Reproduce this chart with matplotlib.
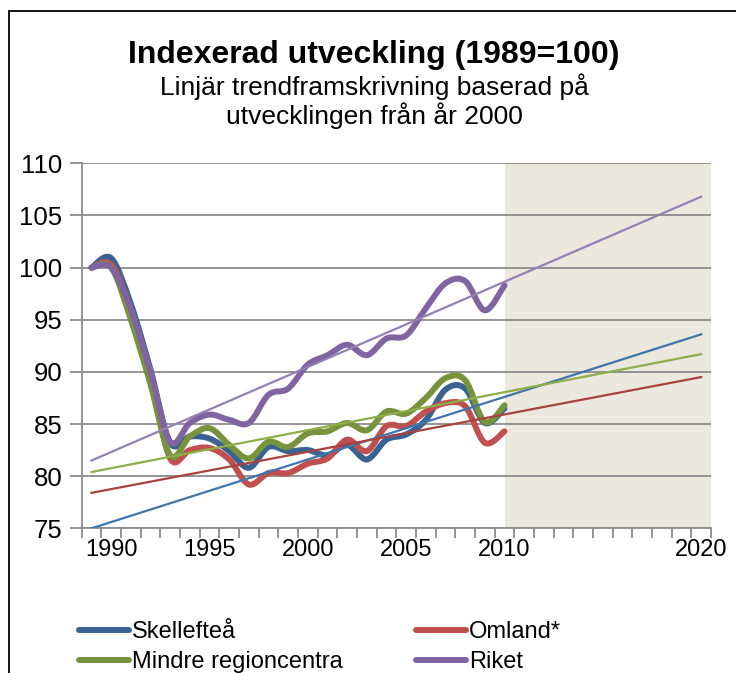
import numpy as np
import matplotlib.pyplot as plt
from matplotlib.path import Path
from matplotlib.patches import PathPatch, Rectangle
from matplotlib.lines import Line2D

plt.rcParams['font.family'] = ['Liberation Sans', 'DejaVu Sans']

years = np.arange(1989, 2011)

skelleftea = [100, 100.9, 96.5, 90.2, 83.2, 83.8, 83.6, 82.4, 80.8, 82.8, 82.4,
              82.5, 82.0, 83.0, 81.6, 83.5, 84.0, 85.4, 88.3, 88.4, 85.1, 86.5]
omland = [100, 100.3, 96.0, 89.5, 81.7, 82.5, 82.7, 81.6, 79.2, 80.3, 80.3,
          81.2, 81.7, 83.5, 82.4, 84.8, 84.8, 86.2, 87.0, 86.7, 83.2, 84.3]
mindre = [100, 100.0, 95.0, 88.8, 82.0, 83.8, 84.6, 83.0, 81.7, 83.3, 82.8,
          84.1, 84.3, 85.1, 84.4, 86.2, 86.0, 87.5, 89.4, 89.2, 85.2, 86.8]
riket = [100, 100.0, 96.0, 90.0, 83.3, 85.1, 85.9, 85.4, 85.1, 87.8, 88.4,
         90.7, 91.6, 92.6, 91.6, 93.2, 93.5, 96.1, 98.5, 98.7, 95.9, 98.3]

names = ['Skellefteå', 'Omland*', 'Mindre regioncentra', 'Riket']
series = [skelleftea, omland, mindre, riket]
colors = ['#3A6394', '#C0504D', '#77933C', '#8064A2']

# linear trend, value at 1989 and at 2020
trend_years = [1989, 2020]
trend_start = [75.0, 78.4, 80.4, 81.5]
trend_end = [93.6, 89.5, 91.7, 106.8]
trend_colors = ['#3F74AC', '#A8423F', '#8CAF4B', '#9580B5']

year_labels = [1990, 1995, 2000, 2005, 2010, 2020]


def smooth_path(x, y):
    # excel-style smoothed line as cubic bezier segments
    x = np.asarray(x, float)
    y = np.asarray(y, float)
    pts = np.column_stack([x, y])
    verts = [pts[0]]
    codes = [Path.MOVETO]
    n = len(pts)
    for i in range(n - 1):
        p0 = pts[i - 1] if i > 0 else pts[i]
        p1 = pts[i]
        p2 = pts[i + 1]
        p3 = pts[i + 2] if i + 2 < n else pts[i + 1]
        c1 = p1 + (p2 - p0) / 6.0
        c2 = p2 - (p3 - p1) / 6.0
        verts += [c1, c2, p2]
        codes += [Path.CURVE4] * 3
    return Path(verts, codes)


fig = plt.figure(figsize=(7.36, 6.73), dpi=100)
ax = fig.add_axes([81.7 / 736, 1 - 528.3 / 673, (711 - 81.7) / 736, (528.3 - 163.3) / 673])

ax.axvspan(2010, 2020.5, color='#EBE8DD', lw=0, zorder=0)

grid_c = '#8C8C8C'
ax.set_ylim(75, 110)
ax.set_xlim(1988.5, 2020.5)
ax.set_yticks(np.arange(75, 111, 5))
ax.yaxis.grid(True, color=grid_c, lw=1.3, zorder=1)
ax.set_axisbelow(True)

ax.set_xticks(np.arange(1988.5, 2021, 1))
ax.set_xticklabels([])
ax.set_xticks(year_labels, minor=True)
ax.set_xticklabels([str(y) for y in year_labels], minor=True)
ax.tick_params(axis='x', which='major', length=7, width=1.3, color=grid_c, direction='out')
ax.tick_params(axis='x', which='minor', length=0, pad=8, labelsize=17)
ax.tick_params(axis='y', length=9, width=1.3, color=grid_c, pad=5, labelsize=18.5)

for s in ['top', 'right']:
    ax.spines[s].set_visible(False)
for s in ['left', 'bottom']:
    ax.spines[s].set_color(grid_c)
    ax.spines[s].set_linewidth(1.3)

for vals, c in zip(series, colors):
    ax.add_patch(PathPatch(smooth_path(years, vals), fill=False, ec=c, lw=4.3,
                           capstyle='round', joinstyle='round', zorder=3))

for a, b, c in zip(trend_start, trend_end, trend_colors):
    ax.plot(trend_years, [a, b], color=c, lw=1.6, zorder=4)

fig.text(374 / 736, 1 - 63 / 673, 'Indexerad utveckling (1989=100)', ha='center',
         va='baseline', fontsize=23, fontweight='bold')
fig.text(374 / 736, 1 - 95 / 673, 'Linjär trendframskrivning baserad på', ha='center',
         va='baseline', fontsize=19)
fig.text(374 / 736, 1 - 124 / 673, 'utvecklingen från år 2000', ha='center',
         va='baseline', fontsize=19)

handles = [Line2D([], [], color=c, lw=4.3, solid_capstyle='round') for c in colors]
order = [0, 2, 1, 3]
fig.legend([handles[i] for i in order], [names[i] for i in order], ncol=2,
           loc='upper left', bbox_to_anchor=(79 / 736, 1 - 621 / 673), frameon=False,
           fontsize=17, handlelength=2.1, handletextpad=0.15, columnspacing=3.1,
           labelspacing=0.33, borderpad=0, borderaxespad=0)

fig.patches.append(Rectangle((9 / 736, -0.1), 1.2, 1.1 - 11 / 673,
                             transform=fig.transFigure, fill=False, ec='black', lw=1.3))

fig.savefig('out.png', dpi=100)
